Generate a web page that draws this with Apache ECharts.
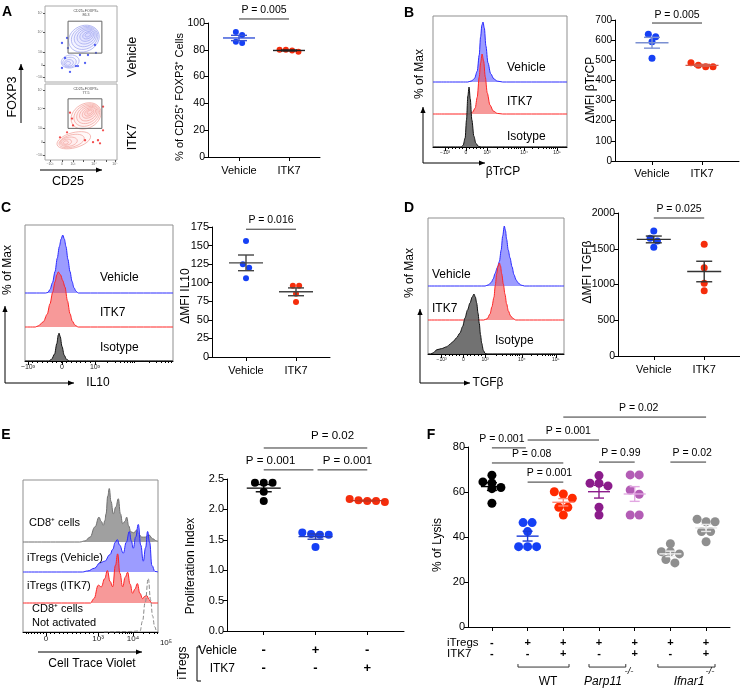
<!DOCTYPE html>
<html><head><meta charset="utf-8">
<script src="https://cdn.jsdelivr.net/npm/echarts@6.0.0/dist/echarts.min.js"></script>
<style>html,body{margin:0;padding:0;background:#fff;}#chart{width:740px;height:688px;}</style>
</head><body><div id="chart"></div>
<script>
// ================= DATA =================
const groupNames = ['Vehicle', 'ITK7'];
// Panel A
const aVehicle = [93.3, 91, 86, 85];
const aITK7 = [78.5, 80, 79.5, 80];
const aP = 'P = 0.005';
// Panel B
const bVehicle = [617, 629, 592, 510];
const bITK7 = [468, 475, 488, 468];
const bP = 'P = 0.005';
// Panel C
const cVehicle = [156, 125, 120, 106];
const cITK7 = [96, 96, 85, 74];
const cP = 'P = 0.016';
// Panel D
const dVehicle = [1748, 1646, 1608, 1520];
const dITK7 = [1562, 1235, 1017, 913];
const dP = 'P = 0.025';
// Panel E
const eCD8 = [2.44, 2.44, 2.44, 2.29, 2.14];
const eTregVehicle = [1.62, 1.585, 1.585, 1.595, 1.38];
const eTregITK7 = [2.12, 2.17, 2.15, 2.14, 2.14];
const eRowVehicle = ['-', '+', '-'];
const eRowITK7 = ['-', '-', '+'];
const eP = ['P = 0.001', 'P = 0.001', 'P = 0.02'];
// Panel F
const fWT = [67.5, 64.5, 64, 62, 61.5, 55];
const fWTiTregs = [46.4, 46.4, 42.4, 35.7, 35.7, 35.7];
const fWTiTregsITK7 = [59.1, 60.1, 57.2, 53.2, 53.2, 49.8];
const fParp11 = [67.3, 63.9, 63.9, 62.7, 53.2, 49.8];
const fParp11ITK7 = [67.6, 67.6, 60.9, 59, 49.8, 49.8];
const fIfnar1 = [37, 33.5, 33.5, 32.5, 30, 28.5];
const fIfnar1ITK7 = [47.9, 46.8, 46.8, 42.4, 42.4, 37.9];
const fRowITregs = ['-', '+', '+', '+', '+', '+', '+'];
const fRowITK7 = ['-', '-', '+', '-', '+', '-', '+'];
const fGenotypes = ['WT', 'Parp11', 'Ifnar1'];
const fP = ['P = 0.02', 'P = 0.001', 'P = 0.001', 'P = 0.08', 'P = 0.001', 'P = 0.99', 'P = 0.02'];

// Flow histograms: [channel position 0-100 across plot, % of max]
const bHistVehicle = [[0,0],[26,0],[29,2],[31,6],[33,18],[34.5,45],[35.5,75],[36.5,95],[37.3,100],[38.3,90],[39.5,60],[41,32],[43,14],[45.5,5],[48,1.5],[52,0],[100,0]];
const bHistITK7 = [[0,0],[27,0],[29.5,3],[31.5,10],[33,28],[34.5,62],[35.5,85],[36.6,100],[37.8,88],[39,62],[40.5,35],[42.5,15],[45,5],[48,1],[52,0],[100,0]];
const bHistIsotype = [[0,0],[21,0],[22.5,3],[24,15],[25,45],[26,85],[26.9,100],[27.8,80],[29,45],[30.5,18],[32,6],[34,1],[36,0],[100,0]];
const cHistVehicle = [[0,0],[14,0],[15.5,1],[16.9,6],[18.6,18],[20.3,37],[21.8,60],[23.2,80],[24.4,93],[25.5,100],[26.6,93],[27.7,80],[29,58],[30.4,37],[31.8,20],[33.1,9],[34.5,3],[36,0],[100,0]];
const cHistITK7 = [[0,0],[7,0],[9,2],[12.4,9],[15,22],[16.9,40],[18.7,60],[20.3,78],[21.5,90],[22.5,95],[24,90],[25.5,80],[27,69],[28.7,45],[30.4,23],[32,10],[33.8,3],[36,0],[100,0]];
const cHistIsotype = [[0,0],[16,0],[18,3],[20,12],[21.5,30],[22.5,45],[23,48],[23.8,42],[25,25],[26.5,10],[28,3],[30,0],[100,0]];
const dHistVehicle = [[0,0],[42,0],[44.5,2],[46.5,6],[48,12],[49.3,21],[51,31],[52.5,41],[53.8,60],[54.9,83],[56.1,100],[57,92],[57.8,78],[59,60],[60.3,47],[61.8,32],[63.2,19],[64.8,10],[66.4,5],[68.5,1.5],[71,0],[100,0]];
const dHistITK7 = [[0,0],[41,0],[43.5,2],[45.6,10],[47,22],[48.5,38],[49.5,58],[50.5,77],[51.5,90],[52.5,95],[53.3,90],[54.2,77],[55.4,60],[56.6,43],[57.8,27],[59.1,15],[60.7,7],[62.3,3],[64.5,0],[100,0]];
const dHistIsotype = [[0,0],[2,0],[3.9,2],[6.4,7],[10,9],[13.7,12],[16,16],[18.6,21],[21,27],[23.5,35],[25.5,46],[27.2,60],[29,73],[30.9,85],[32.5,95],[33.8,100],[34.8,95],[35.8,85],[36.8,68],[37.7,51],[38.6,32],[39.5,18],[40.7,6],[42,1],[44,0],[100,0]];
const eHistCD8 = [[0,0],[42,0],[46,2],[49.6,9],[53.3,28],[56.3,46],[58,38],[59.5,31],[60.7,40],[61.5,52],[62.8,85],[63.9,99],[65.2,75],[66.9,52],[68.8,65],[70.6,80],[72.2,52],[73.8,34],[75.5,38],[76.8,46],[78.3,30],[79.8,19],[82,17],[84.2,22],[86,14],[87.9,9],[90.5,9],[93.3,13],[96,6],[99,2],[100,1]];
const eHistVehicle = [[0,0],[44,0],[48,2],[53,7],[57,17],[60.5,20],[64.4,32],[66.5,42],[68.3,55],[69.9,60],[71.5,50],[74.3,35],[76.5,55],[78.8,75],[80.2,58],[81.7,44],[83.5,65],[85.4,88],[87.2,50],[89.1,20],[90.8,45],[92.3,75],[93.8,55],[95.5,12],[97.8,1],[100,0]];
const eHistITK7 = [[0,0],[50,0],[52.5,8],[55.8,33],[58,30],[60.5,45],[62.5,60],[64.5,40],[66.4,30],[68.5,70],[70.1,91],[71.8,55],[73.8,30],[75.8,48],[77.5,57],[79.3,35],[81.2,18],[83,26],[84.7,36],[86.6,18],[88.6,8],[90,12],[91.6,14],[93.5,6],[95.3,0],[100,0]];
const eHistNotActivated = [[60,0],[80,1],[86.7,2],[88.5,20],[90.5,55],[92.8,99],[94.5,60],[96,30],[97.5,10],[99,2],[100,0]];

// Panel A contour levels [cx, cy, rx, ry, tilt(deg)] and single events [x, y]
const aContourVehicle = [[54,57,22,17,25],[55,58,19,14.5,25],[56,59,16,12,25],[57,60,13,9.5,25],[58,61,10,7,25],[59,61.5,7,4.5,25],[59.5,62,4,2.5,25],
  [35,27,12.5,8.5,10],[34,26,9.5,6.5,10],[33,25,6.5,4.5,10],[32,24.5,3.5,2.5,10]];
const aContourITK7 = [[57,58,22,16,30],[58,59,19,13.5,30],[59,60,16,11,30],[60,61,13,8.5,30],[61,62,10,6,30],[61.5,62.5,7,4,30],[62,63,4,2.2,30],
  [40,26,24,10,15],[37,25,18,8,15],[33,24,12,6,10],[30,23.5,7,4,10],[29,23,3.5,2.2,10]];
const aEventsVehicle = [[23.6,51.3],[30.6,57.9],[31.9,44.7],[69.4,48.7],[70.8,38.2],[48.6,35.5],[59.7,35.5],[55.6,25],[43,21],[45.8,21],[27.8,31.6],[23.6,18.4],[34.7,13.2]];
const aEventsITK7 = [[20.8,29.9],[37.5,54.5],[38.9,45.5],[34.7,62.3],[80.6,70.1],[80.6,39],[73.6,26],[66.7,23.4],[76.4,22],[55.6,26],[30.6,36.4]];
const aGateVehicle = [[32,80],[79,80],[79,38],[32,38],[32,80]];
const aGateITK7 = [[32,80.5],[79,80.5],[79,41.6],[32,41.6],[32,80.5]];
const aGateName = 'CD25+FOXP3+';
const aGatePct = ['86.3', '77.5'];

// ================= HELPERS =================
const FONT = "'Liberation Sans', Arial, Helvetica, sans-serif";
const grid = [], xAxis = [], yAxis = [], series = [], graphic = [];

function addCoord(g, xa, ya) {
  const gi = grid.length, xi = xAxis.length, yi = yAxis.length;
  grid.push(Object.assign({ show: false }, g));
  xAxis.push(Object.assign({ gridIndex: gi, type: 'value', splitLine: { show: false } }, xa));
  yAxis.push(Object.assign({ gridIndex: gi, type: 'value', splitLine: { show: false } }, ya));
  return { gi, xi, yi };
}
function txt(x, y, text, o) {
  o = o || {};
  graphic.push({ type: 'text', x, y, rotation: o.rot || 0, z: 100, silent: true,
    style: { text, fill: o.color || '#000', font: (o.italic ? 'italic ' : '') + (o.bold ? 'bold ' : '') + (o.size || 12) + 'px ' + FONT,
      align: o.align || 'center', verticalAlign: 'middle' } });
}
function line(x1, y1, x2, y2, color, w) {
  graphic.push({ type: 'line', z: 100, silent: true, shape: { x1, y1, x2, y2 }, style: { stroke: color || '#000', lineWidth: w || 1 } });
}
function arrow(x1, y1, x2, y2) {
  line(x1, y1, x2, y2);
  const a = Math.atan2(y2 - y1, x2 - x1), L = 6, W = 2.6;
  graphic.push({ type: 'polygon', z: 100, silent: true, shape: { points: [[x2, y2],
    [x2 - L * Math.cos(a) + W * Math.sin(a), y2 - L * Math.sin(a) - W * Math.cos(a)],
    [x2 - L * Math.cos(a) - W * Math.sin(a), y2 - L * Math.sin(a) + W * Math.cos(a)]] }, style: { fill: '#000' } });
}
const mean = v => v.reduce((a, b) => a + b, 0) / v.length;
const sem = v => { const m = mean(v); return Math.sqrt(v.reduce((a, b) => a + (b - m) * (b - m), 0) / (v.length - 1)) / Math.sqrt(v.length); };

// Prism-like dot arrangement: values closer than a dot diameter share a row, rows are centred
function swarm(values, x, D, pxX, pxY, gap) {
  const sorted = values.slice().sort((a, b) => b - a);
  const rows = [];
  sorted.forEach(v => {
    const r = rows[rows.length - 1];
    if (r && (r[0] - v) * pxY < D * 0.75) r.push(v); else rows.push([v]);
  });
  const out = [];
  rows.forEach(r => r.forEach((v, k) => out.push([x + (k - (r.length - 1) / 2) * D * gap / pxX, v])));
  return out;
}

function dotPanel(L) {
  const cats = L.groups.map((g, i) => i + 1);
  const c = addCoord(
    { left: L.left, top: L.top, width: L.width, height: L.height },
    { min: L.xmin, max: L.xmax,
      axisLine: { show: true, onZero: false, lineStyle: { color: '#000', width: 1 } },
      axisTick: { show: true, customValues: cats, length: 4, lineStyle: { color: '#000' } },
      axisLabel: Object.assign({ show: true, customValues: cats, formatter: L.xFmt, color: '#000', fontFamily: FONT, fontSize: 11, margin: 8 }, L.xLabel || {}) },
    { min: L.ymin, max: L.ymax, interval: L.interval,
      axisLine: { show: true, onZero: false, lineStyle: { color: '#000', width: 1 } },
      axisTick: { show: true, length: 4, lineStyle: { color: '#000' } },
      axisLabel: { color: '#000', fontFamily: FONT, fontSize: L.yFont || 11, margin: 3, formatter: L.yFmt || (v => String(v)) } });
  const pxX = L.width / (L.xmax - L.xmin), pxY = L.height / (L.ymax - L.ymin);
  L.groups.forEach((g, i) => {
    series.push({ type: 'scatter', xAxisIndex: c.xi, yAxisIndex: c.yi, silent: true, z: 3, clip: false,
      data: swarm(g.values, i + 1, L.size, pxX, pxY, L.gap || 1.05), symbol: 'circle', symbolSize: L.size,
      itemStyle: { color: g.color, opacity: 1 } });
  });
  series.push({ type: 'custom', xAxisIndex: c.xi, yAxisIndex: c.yi, z: 4, silent: true,
    data: L.groups.map((g, i) => [i + 1, mean(g.values), sem(g.values)]),
    renderItem: (p, api) => {
      const g = L.groups[p.dataIndex];
      const x = api.value(0), m = api.value(1), s = api.value(2);
      const pm = api.coord([x, m]), pt = api.coord([x, m + s]), pb = api.coord([x, m - s]);
      const st = { stroke: g.bar, lineWidth: 1.4 };
      return { type: 'group', children: [
        { type: 'line', shape: { x1: pm[0] - L.meanHalf, y1: pm[1], x2: pm[0] + L.meanHalf, y2: pm[1] }, style: st },
        { type: 'line', shape: { x1: pm[0], y1: pt[1], x2: pm[0], y2: pb[1] }, style: st },
        { type: 'line', shape: { x1: pm[0] - L.capHalf, y1: pt[1], x2: pm[0] + L.capHalf, y2: pt[1] }, style: st },
        { type: 'line', shape: { x1: pm[0] - L.capHalf, y1: pb[1], x2: pm[0] + L.capHalf, y2: pb[1] }, style: st }
      ] };
    } });
  if (L.brackets) {
    series.push({ type: 'custom', xAxisIndex: c.xi, yAxisIndex: c.yi, z: 5, silent: true,
      data: L.brackets.map(b => [b.x1, b.y]),
      renderItem: (p, api) => {
        const b = L.brackets[p.dataIndex];
        const a = api.coord([b.x1, b.y]), e = api.coord([b.x2, b.y]);
        return { type: 'group', children: [
          { type: 'line', shape: { x1: a[0], y1: a[1], x2: e[0], y2: e[1] }, style: { stroke: '#333', lineWidth: 1 } },
          { type: 'text', x: (a[0] + e[0]) / 2 + (b.dx || 0), y: a[1] + (b.dy || -9),
            style: { text: b.label, fill: '#000', font: (L.pFont || 10.5) + 'px ' + FONT, align: 'center', verticalAlign: 'middle' } }
        ] };
      } });
  }
  return c;
}

function histPanel(H) {
  const w = H.right - H.left;
  const box = addCoord({ left: H.left, top: H.top, width: w, height: H.bottom - H.top, show: true, borderColor: '#8f8f8f', borderWidth: 1, z: 0 },
    { min: 0, max: 100,
      axisLine: { show: true, onZero: false, lineStyle: { color: '#000', width: 1 } },
      axisTick: { show: true, customValues: H.major, length: 4, lineStyle: { color: '#000' } },
      axisLabel: { show: true, customValues: H.labelValues, formatter: v => H.labels[H.labelValues.indexOf(v)], fontSize: H.labelSize, color: '#222', margin: 3, fontFamily: FONT } },
    { min: 0, max: 100, show: false });
  xAxis.push({ gridIndex: box.gi, type: 'value', min: 0, max: 100, position: 'bottom', offset: 0, splitLine: { show: false },
    axisLine: { show: false }, axisLabel: { show: false },
    axisTick: { show: true, customValues: H.minor, length: 2, lineStyle: { color: '#000' } } });
  H.curves.forEach((cv, k) => {
    const c = addCoord({ left: H.left, top: cv.base - H.scale, width: w, height: H.scale },
      { min: 0, max: 100, show: false }, { min: 0, max: 100, show: false });
    const s = { type: 'line', xAxisIndex: c.xi, yAxisIndex: c.yi, data: cv.data, symbol: 'none', smooth: H.smooth || 0.3, smoothMonotone: 'x',
      clip: false, silent: true, z: 2 + k, lineStyle: { color: cv.stroke, width: 1, type: cv.dash ? 'dashed' : 'solid' } };
    if (cv.fill) s.areaStyle = { color: cv.fill, opacity: 1, origin: 'start' };
    series.push(s);
  });
}
function logTicks(start, decade, upto) { // minor tick positions of a log decade layout
  const t = [];
  for (let d = start; d < upto; d += decade) for (let k = 2; k <= 9; k++) { const v = d + Math.log10(k) * decade; if (v <= upto) t.push(v); }
  return t;
}
function linTicks(a, b, n) { const t = []; for (let i = 1; i < n; i++) t.push(a + (b - a) * i / n); return t; }

function contourPlot(P) {
  const c = addCoord({ left: P.left, top: P.top, width: P.width, height: P.height, show: true, borderColor: '#a8a8a8', borderWidth: 1, z: 0 },
    { min: 0, max: 100, axisLine: { show: false },
      axisTick: { show: !!P.xTicks, customValues: P.xTicks || [], length: 2, lineStyle: { color: '#555' } },
      axisLabel: { show: !!P.xTicks, customValues: P.xTicks || [], formatter: v => P.xTickLabels[P.xTicks.indexOf(v)], fontSize: 3.5, color: '#666', margin: 2 } },
    { min: 0, max: 100, axisLine: { show: false },
      axisTick: { show: true, customValues: P.yTicks, length: 2, lineStyle: { color: '#555' } },
      axisLabel: { show: true, customValues: P.yTicks, formatter: v => P.yTickLabels[P.yTicks.indexOf(v)], fontSize: 3.5, color: '#666', margin: 2 } });
  series.push({ type: 'custom', xAxisIndex: c.xi, yAxisIndex: c.yi, z: 2, silent: true, data: P.levels,
    renderItem: (p, api) => {
      const ctr = api.coord([api.value(0), api.value(1)]);
      const sz = api.size([api.value(2), api.value(3)]);
      return { type: 'ellipse', x: ctr[0], y: ctr[1], rotation: api.value(4) * Math.PI / 180,
        shape: { cx: 0, cy: 0, rx: sz[0], ry: sz[1] }, style: { fill: P.fill, stroke: P.line, lineWidth: 0.7 } };
    } });
  series.push({ type: 'scatter', xAxisIndex: c.xi, yAxisIndex: c.yi, z: 3, silent: true, data: P.events, symbolSize: 2.3, itemStyle: { color: P.dot } });
  series.push({ type: 'line', xAxisIndex: c.xi, yAxisIndex: c.yi, z: 4, silent: true, data: P.gate, symbol: 'none', lineStyle: { color: '#666', width: 1 } });
  txt(P.left + P.width * 0.57, P.top + 4.5, aGateName, { size: 3.6, color: '#444' });
  txt(P.left + P.width * 0.57, P.top + 8.5, P.pct, { size: 3.6, color: '#444' });
}

// ================= LAYOUT =================
const BLUE = '#1540f5', RED = '#f52d0c';
const HBLUE = { stroke: '#2a2aff', fill: 'rgba(95,95,255,0.62)' };
const HRED = { stroke: '#ff2525', fill: 'rgba(242,80,80,0.58)' };
const HISO = { stroke: '#111', fill: 'rgba(95,95,95,0.88)' };

// ---- Panel A ----
const aY = ['10⁵', '10⁴', '10³', '0', '−10³'];
contourPlot({ left: 45, top: 6, width: 72, height: 76, levels: aContourVehicle, events: aEventsVehicle, gate: aGateVehicle, pct: aGatePct[0],
  line: '#a3a9f0', fill: 'rgba(150,160,255,0.06)', dot: '#2436f0', yTicks: [90.8, 65.8, 39.5, 22.4, 6.6], yTickLabels: aY });
contourPlot({ left: 45, top: 84, width: 72, height: 76, levels: aContourITK7, events: aEventsITK7, gate: aGateITK7, pct: aGatePct[1],
  line: '#f2a6a0', fill: 'rgba(255,150,150,0.06)', dot: '#f02020', yTicks: [92, 67.5, 41.6, 23.4, 6.5], yTickLabels: aY,
  xTicks: [7, 23.6, 38.9, 52.8, 68, 84.7, 97.2], xTickLabels: ['−10³', '0', '10³', '', '10⁴', '', '10⁵'] });
txt(13, 97, 'FOXP3', { rot: Math.PI / 2, size: 12.5 });
arrow(21, 123, 21, 64);
arrow(40, 170, 102, 170);
txt(68, 182, 'CD25', { size: 12.5 });
txt(133, 57, 'Vehicle', { rot: Math.PI / 2, size: 12.5 });
txt(133, 137, 'ITK7', { rot: Math.PI / 2, size: 12.5 });
dotPanel({ left: 208, top: 23, width: 112, height: 134, xmin: 0.38, xmax: 2.62, ymin: 0, ymax: 100, interval: 20, size: 6, yFont: 10.5,
  meanHalf: 16, capHalf: 8, xFmt: v => groupNames[v - 1],
  groups: [{ values: aVehicle, color: BLUE, bar: '#3452d8' }, { values: aITK7, color: RED, bar: '#222' }],
  brackets: [{ x1: 1, x2: 2, y: 103, label: aP }] });
txt(180, 97, '% of CD25⁺ FOXP3⁺ Cells', { rot: Math.PI / 2, size: 11 });

// ---- Panel B ----
histPanel({ left: 433, right: 567, top: 16, bottom: 147, scale: 60,
  major: [9, 24.6, 40.3, 67.9, 92.5], labelValues: [9, 24.6, 40.3, 67.9, 92.5], labels: ['−10³', '0', '10³', '10⁴', '10⁵'], labelSize: 5,
  minor: linTicks(9, 40.3, 12).concat(logTicks(40.3, 26, 100)),
  curves: [Object.assign({ data: bHistVehicle, base: 82 }, HBLUE), Object.assign({ data: bHistITK7, base: 114 }, HRED), Object.assign({ data: bHistIsotype, base: 147 }, HISO)] });
txt(507, 68, 'Vehicle', { align: 'left' });
txt(507, 102, 'ITK7', { align: 'left' });
txt(507, 137, 'Isotype', { align: 'left' });
txt(420, 74, '% of Max', { rot: Math.PI / 2, size: 12 });
arrow(423, 163, 423, 107);
arrow(423, 163, 485, 163);
txt(503, 172, 'βTrCP', { size: 12 });
dotPanel({ left: 615, top: 20, width: 124, height: 141, xmin: 0.26, xmax: 2.74, ymin: 0, ymax: 700, interval: 100, size: 7, yFont: 10,
  meanHalf: 16.5, capHalf: 8, xFmt: v => groupNames[v - 1], xLabel: { margin: 7 },
  groups: [{ values: bVehicle, color: BLUE, bar: '#7b90d2' }, { values: bITK7, color: RED, bar: '#d65a48' }],
  brackets: [{ x1: 1, x2: 2, y: 685, label: bP, dy: -8 }] });
txt(591, 90, 'ΔMFI βTrCP', { rot: Math.PI / 2, size: 12 });

// ---- Panel C ----
histPanel({ left: 25, right: 173, top: 225, bottom: 361, scale: 58,
  major: [2, 25, 47.3], labelValues: [2, 25, 47.3], labels: ['−10³', '0', '10³'], labelSize: 7,
  minor: linTicks(2, 47.3, 14).concat(logTicks(47.3, 28, 100)),
  curves: [Object.assign({ data: cHistVehicle, base: 293 }, HBLUE), Object.assign({ data: cHistITK7, base: 327 }, HRED), Object.assign({ data: cHistIsotype, base: 361 }, HISO)] });
txt(100, 278, 'Vehicle', { align: 'left' });
txt(100, 313, 'ITK7', { align: 'left' });
txt(100, 348, 'Isotype', { align: 'left' });
txt(8, 270, '% of Max', { rot: Math.PI / 2, size: 12 });
arrow(5, 383, 5, 306);
arrow(5, 383, 74, 383);
txt(98, 383, 'IL10', { size: 12 });
dotPanel({ left: 212, top: 227, width: 118, height: 130, xmin: 0.32, xmax: 2.68, ymin: 0, ymax: 175, interval: 25, size: 6,
  meanHalf: 17, capHalf: 8, xFmt: v => groupNames[v - 1],
  groups: [{ values: cVehicle, color: BLUE, bar: '#444' }, { values: cITK7, color: RED, bar: '#444' }],
  brackets: [{ x1: 1, x2: 2, y: 172, label: cP }] });
txt(186, 296, 'ΔMFI IL10', { rot: Math.PI / 2, size: 12 });

// ---- Panel D ----
histPanel({ left: 428, right: 564, top: 218, bottom: 354, scale: 60,
  major: [10, 26, 42, 69, 94], labelValues: [10, 26, 42, 69, 94], labels: ['−10³', '0', '10³', '10⁴', '10⁵'], labelSize: 5,
  minor: linTicks(10, 42, 12).concat(logTicks(42, 26, 100)),
  curves: [Object.assign({ data: dHistVehicle, base: 286 }, HBLUE), Object.assign({ data: dHistITK7, base: 320 }, HRED), Object.assign({ data: dHistIsotype, base: 354 }, HISO)] });
txt(432, 275, 'Vehicle', { align: 'left' });
txt(432, 309, 'ITK7', { align: 'left' });
txt(495, 341, 'Isotype', { align: 'left' });
txt(410, 273, '% of Max', { rot: Math.PI / 2, size: 12 });
arrow(420, 383, 420, 309);
arrow(420, 383, 470, 383);
txt(488, 383, 'TGFβ', { size: 12 });
dotPanel({ left: 618, top: 213, width: 122, height: 143, xmin: 0.29, xmax: 2.71, ymin: 0, ymax: 2000, interval: 500, size: 7, yFont: 10.5,
  meanHalf: 17, capHalf: 8, xFmt: v => groupNames[v - 1], yFmt: v => String(v),
  groups: [{ values: dVehicle, color: BLUE, bar: '#333' }, { values: dITK7, color: RED, bar: '#333' }],
  brackets: [{ x1: 1, x2: 2, y: 1930, label: dP }] });
txt(588, 272, 'ΔMFI TGFβ', { rot: Math.PI / 2, size: 12 });

// ---- Panel E ----
histPanel({ left: 23, right: 158, top: 480, bottom: 632, scale: 54, smooth: 0.45,
  major: [17, 55.6, 81.5], labelValues: [17, 55.6, 81.5], labels: ['0', '10³', '10⁴'], labelSize: 8,
  minor: linTicks(0, 17, 8).concat(linTicks(17, 55.6, 12)).concat(logTicks(55.6, 25.9, 100)),
  curves: [{ data: eHistCD8, base: 542, stroke: '#6f6f6f', fill: 'rgba(150,150,150,0.9)' },
    Object.assign({ data: eHistVehicle, base: 572 }, HBLUE),
    Object.assign({ data: eHistITK7, base: 603 }, HRED),
    { data: eHistNotActivated, base: 632, stroke: '#8a8a8a', dash: true }] });
txt(166, 643, '10⁵', { size: 8, color: '#222' });
txt(29, 523, 'CD8⁺ cells', { align: 'left', size: 11 });
txt(27, 558, 'iTregs (Vehicle)', { align: 'left', size: 11 });
txt(27, 586, 'iTregs (ITK7)', { align: 'left', size: 11 });
txt(32, 609, 'CD8⁺ cells', { align: 'left', size: 11 });
txt(32, 623, 'Not activated', { align: 'left', size: 11 });
arrow(38, 652, 142, 652);
txt(92, 664, 'Cell Trace Violet', { size: 12 });
dotPanel({ left: 227, top: 479, width: 177, height: 152, xmin: 0.29, xmax: 3.71, ymin: 0, ymax: 2.5, interval: 0.5, size: 8, gap: 1.1,
  meanHalf: 17, capHalf: 8, pFont: 11.5, yFmt: v => v.toFixed(1),
  xFmt: v => eRowVehicle[v - 1] + '\n' + eRowITK7[v - 1], xLabel: { fontSize: 13, fontWeight: 'bold', lineHeight: 18, margin: 10 },
  groups: [{ values: eCD8, color: '#000', bar: '#000' }, { values: eTregVehicle, color: BLUE, bar: '#2a3fae' }, { values: eTregITK7, color: RED, bar: '#c8321c' }],
  brackets: [{ x1: 1, x2: 3, y: 3.01, label: eP[2], dy: -12.5, dx: 17 }, { x1: 1, x2: 1.96, y: 2.65, label: eP[0], dx: -18 }, { x1: 2.04, x2: 3, y: 2.65, label: eP[1], dx: 5 }] });
txt(191, 566, 'Proliferation Index', { rot: Math.PI / 2, size: 12 });
txt(183, 663, 'iTregs', { rot: Math.PI / 2, size: 12 });
line(197, 647, 197, 681); line(197, 647, 201, 647); line(197, 681, 201, 681);
txt(237, 651, 'Vehicle', { align: 'right', size: 12 });
txt(235, 669, 'ITK7', { align: 'right', size: 12 });

// ---- Panel F ----
const fLayout = { left: 468, top: 447, width: 262, height: 180, xmin: 0.33, xmax: 7.67 };
const fc = dotPanel(Object.assign({}, fLayout, { ymin: 0, ymax: 80, interval: 20, size: 9, gap: 1.0,
  meanHalf: 11, capHalf: 5, pFont: 10.5,
  xFmt: v => fRowITregs[v - 1] + '\n' + fRowITK7[v - 1], xLabel: { fontSize: 11, fontWeight: 'bold', lineHeight: 10.5, margin: 11 },
  groups: [{ values: fWT, color: '#000', bar: '#000' }, { values: fWTiTregs, color: BLUE, bar: '#1a3ad8' },
    { values: fWTiTregsITK7, color: '#ff2a00', bar: '#ff8a78' }, { values: fParp11, color: '#8b1c8b', bar: '#8b1c8b' },
    { values: fParp11ITK7, color: '#b35cb5', bar: '#e2a8e2' }, { values: fIfnar1, color: '#8f8f8f', bar: '#efefef' },
    { values: fIfnar1ITK7, color: '#8f8f8f', bar: '#e6e6e6' }],
  brackets: [{ x1: 3, x2: 7, y: 93.3, label: fP[0], dx: 4 }, { x1: 2, x2: 4, y: 83.1, label: fP[1], dx: 5 },
    { x1: 1, x2: 1.95, y: 79.6, label: fP[2], dx: -7 }, { x1: 1, x2: 3, y: 72.9, label: fP[3], dx: 4 },
    { x1: 2, x2: 3, y: 64.4, label: fP[4], dx: 4 }, { x1: 4, x2: 5, y: 73.3, label: fP[5], dx: 4 },
    { x1: 6, x2: 7, y: 73.3, label: fP[6], dx: 4 }] }));
// genotype brackets under the table
const fGenoSpans = [[1.73, 3.16], [3.72, 4.75], [5.65, 7.25]];
series.push({ type: 'custom', xAxisIndex: fc.xi, yAxisIndex: fc.yi, z: 5, silent: true, data: fGenoSpans.map(s => [s[0], -17.8]),
  renderItem: (p, api) => {
    const s = fGenoSpans[p.dataIndex];
    const a = api.coord([s[0], -17.8]), b = api.coord([s[1], -17.8]);
    const st = { stroke: '#333', lineWidth: 1 };
    return { type: 'group', children: [
      { type: 'line', shape: { x1: a[0], y1: a[1], x2: b[0], y2: b[1] }, style: st },
      { type: 'line', shape: { x1: a[0], y1: a[1], x2: a[0], y2: a[1] - 3 }, style: st },
      { type: 'line', shape: { x1: b[0], y1: b[1], x2: b[0], y2: b[1] - 3 }, style: st }] };
  } });
txt(438, 545, '% of Lysis', { rot: Math.PI / 2, size: 12 });
txt(447, 643, 'iTregs', { align: 'left', size: 11.5 });
txt(447, 654, 'ITK7', { align: 'left', size: 11.5 });
txt(548, 682, fGenotypes[0], { size: 12 });
txt(603, 682, fGenotypes[1], { size: 12, italic: true });
txt(629, 671, '-/-', { size: 9.5, italic: true });
txt(689, 682, fGenotypes[2], { size: 12, italic: true });
txt(710, 671, '-/-', { size: 9.5, italic: true });

// Panel letters
txt(7, 12, 'A', { bold: true, size: 14 });
txt(409, 13, 'B', { bold: true, size: 14 });
txt(6, 208, 'C', { bold: true, size: 14 });
txt(409, 208, 'D', { bold: true, size: 14 });
txt(6, 435, 'E', { bold: true, size: 14 });
txt(431, 435, 'F', { bold: true, size: 14 });

const chart = echarts.init(document.getElementById('chart'), null, { renderer: 'canvas', width: 740, height: 688 });
chart.setOption({ animation: false, backgroundColor: '#fff', textStyle: { fontFamily: FONT }, grid, xAxis, yAxis, series, graphic: { elements: graphic } });
</script></body></html>
